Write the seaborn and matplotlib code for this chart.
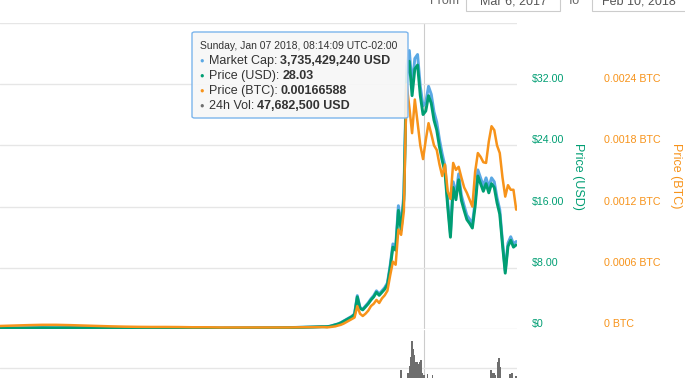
import pandas as pd
import numpy as np
import matplotlib
matplotlib.use("Agg")
import matplotlib.pyplot as plt
import seaborn as sns
from matplotlib.patches import FancyBboxPatch, Rectangle

# ---- data ----
early_dates = ["2017-08-01", "2017-08-06", "2017-08-11", "2017-08-16", "2017-08-21",
               "2017-08-26", "2017-08-31", "2017-09-05", "2017-09-10", "2017-09-15",
               "2017-09-20", "2017-09-25", "2017-09-30", "2017-10-05", "2017-10-10",
               "2017-10-15", "2017-10-20", "2017-10-25", "2017-10-30", "2017-11-04",
               "2017-11-09", "2017-11-14", "2017-11-19", "2017-11-24", "2017-11-28"]
early_usd = [0.10, 0.10, 0.12, 0.14, 0.16, 0.15, 0.17, 0.16, 0.15, 0.14,
             0.15, 0.14, 0.13, 0.13, 0.12, 0.12, 0.13, 0.12, 0.13, 0.14,
             0.15, 0.16, 0.18, 0.22, 0.26]
early_btc = [0.000026, 0.000030, 0.000034, 0.000038, 0.000041, 0.000041, 0.000038, 0.000034,
             0.000030, 0.000026, 0.000023, 0.000021, 0.000020, 0.000020, 0.000019, 0.000017,
             0.000017, 0.000015, 0.000015, 0.000015, 0.000015, 0.000015, 0.000015, 0.000017,
             0.000018]

# daily from Dec 1 2017 to Feb 10 2018
late_dates = pd.date_range("2017-12-01", "2018-02-10", freq="D")
late_usd = [0.30, 0.30, 0.30, 0.35, 0.45, 0.55, 0.65, 0.80, 1.00, 1.20,
            1.40, 1.60, 1.90, 4.20, 2.70, 2.50, 2.90, 3.30, 3.80, 4.20,
            4.80, 4.40, 4.80, 5.20, 5.80, 8.00, 10.70, 10.30, 15.50, 12.90,
            17.00, 33.00, 35.00, 30.50, 34.00, 34.50, 30.50, 28.03, 28.50, 30.50,
            29.50, 27.30, 26.00, 23.80, 22.00, 20.50, 16.00, 12.00, 18.50, 16.90,
            19.50, 16.80, 15.50, 14.30, 13.80, 13.20, 16.00, 20.00, 19.00, 18.00,
            19.00, 17.80, 19.00, 18.50, 16.50, 15.00, 11.00, 7.30, 10.80, 11.60,
            10.70, 11.00]
late_btc = [0.000019, 0.000019, 0.0000165, 0.000019, 0.0000225, 0.000026, 0.000034, 0.000041,
            0.0000525, 0.0000675, 0.0000825, 0.0000975, 0.0001125, 0.000225, 0.00015, 0.0001275,
            0.00015, 0.00018, 0.000225, 0.0002475, 0.000285, 0.000255, 0.0003, 0.00033,
            0.000375, 0.000525, 0.00066, 0.00063, 0.000975, 0.000923, 0.001155, 0.0024,
            0.002175, 0.00192, 0.00225, 0.002025, 0.0018, 0.00166588, 0.001853, 0.002018,
            0.001913, 0.0018, 0.001755, 0.001613, 0.0015, 0.001613, 0.00135, 0.001275,
            0.001628, 0.00156, 0.00159, 0.001485, 0.001388, 0.001335, 0.001268, 0.0012,
            0.001538, 0.001725, 0.001688, 0.001635, 0.001628, 0.001838, 0.001988, 0.00195,
            0.0018, 0.001725, 0.001485, 0.001298, 0.00141, 0.001365, 0.001365, 0.00117]

circulating_supply = 133265403  # market cap / price from the tooltip

vol_dates = ["2017-12-15 00:00", "2017-12-20 00:00", "2017-12-27 00:00", "2017-12-29 23:00",
             "2018-01-01 12:00", "2018-01-02 02:00", "2018-01-02 11:00", "2018-01-02 23:00",
             "2018-01-03 08:00", "2018-01-03 16:45", "2018-01-04 01:30", "2018-01-04 10:15",
             "2018-01-04 23:30", "2018-01-05 12:30", "2018-01-05 21:15", "2018-01-06 06:00",
             "2018-01-06 14:45", "2018-01-07 08:14", "2018-01-08 15:45", "2018-01-10 12:30",
             "2018-01-13 00:00", "2018-01-18 00:00", "2018-01-25 00:00", "2018-01-31 19:00",
             "2018-02-01 04:00", "2018-02-01 21:30", "2018-02-02 11:30", "2018-02-03 08:30",
             "2018-02-03 17:15", "2018-02-04 02:00", "2018-02-07 17:45", "2018-02-08 11:00",
             "2018-02-09 22:00"]
vol_musd = [20, 25, 38, 53, 50, 57, 66, 82, 74, 68, 56, 61, 61, 59, 61, 63, 50,
            47.68, 49, 48, 35, 40, 30, 53, 50, 50, 48, 61, 65, 56, 49, 50, 47]

usd_ticks = [0, 8, 16, 24, 32, 40]
usd_labels = ["$0", "$8.00", "$16.00", "$24.00", "$32.00", ""]
btc_ticks = [0, 0.0006, 0.0012, 0.0018, 0.0024, 0.0030]
btc_labels = ["0 BTC", "0.0006 BTC", "0.0012 BTC", "0.0018 BTC", "0.0024 BTC", ""]

hover_time = "2018-01-07 08:14"
tooltip_header = "Sunday, Jan 07 2018, 08:14:09 UTC-02:00"
tooltip_rows = [("Market Cap:", "3,735,429,240 USD"),
                ("Price (USD):", "28.03"),
                ("Price (BTC):", "0.00166588"),
                ("24h Vol:", "47,682,500 USD")]

# ---- style ----
C_CAP = "#5aa8e4"
C_USD = "#009e73"
C_BTC = "#f7931a"
C_VOL = "#6e6e6e"
GRID = "#e6e6e6"

sns.set_theme(style="white")
plt.rcParams["font.family"] = ["Liberation Sans", "DejaVu Sans"]

df = pd.DataFrame({
    "date": pd.to_datetime(list(early_dates) + list(late_dates.strftime("%Y-%m-%d"))),
    "usd": early_usd + late_usd,
    "btc": early_btc + late_btc,
})
df["mcap"] = df["usd"] * circulating_supply
vol = pd.DataFrame({"date": pd.to_datetime(vol_dates, format="mixed"), "vol": vol_musd})

W, H = 685, 378
fig = plt.figure(figsize=(W / 100, H / 100), dpi=100)
fig.patch.set_facecolor("white")

def fx(x):
    return x / W

def fy(y):
    return 1 - y / H

xlim = (pd.Timestamp("2017-08-05 14:30"), pd.Timestamp("2018-02-10 07:00"))

# price panel: top y=23, bottom y=329, right edge x=517
ax = fig.add_axes([0, fy(329), fx(517), (329 - 23) / H])   # grid + USD labels
ax_cap = ax.twinx()   # market cap (hidden scale)
ax_usd = ax.twinx()   # price USD line
ax_btc = ax.twinx()   # price BTC line + labels

sns.lineplot(data=df, x="date", y="mcap", ax=ax_cap, color=C_CAP, lw=2.1)
sns.lineplot(data=df, x="date", y="usd", ax=ax_usd, color=C_USD, lw=2.1)
sns.lineplot(data=df, x="date", y="btc", ax=ax_btc, color=C_BTC, lw=1.8)

ax_cap.set_ylim(0, 40 * circulating_supply / 1.04)
ax_usd.set_ylim(0, 40)

ax.set_ylim(0, 40)
ax.set_yticks(usd_ticks)
ax.set_yticklabels(usd_labels)
ax_btc.set_ylim(0, 0.003)
ax_btc.set_yticks(btc_ticks)
ax_btc.set_yticklabels(btc_labels)

for z, a in enumerate((ax, ax_cap, ax_usd, ax_btc)):
    a.set_xlim(*xlim)
    a.set_xlabel("")
    a.set_ylabel("")
    a.set_xticks([])
    a.set_zorder(z)
    a.patch.set_visible(False)
    for s in a.spines.values():
        s.set_visible(False)
ax_cap.axis("off")
ax_usd.axis("off")

ax.yaxis.tick_right()
ax.yaxis.grid(True, color=GRID, lw=1)
ax.tick_params(axis="y", length=0, pad=10.8, labelcolor=C_USD, labelsize=7.7)
ax_btc.tick_params(axis="y", length=0, pad=62.5, labelcolor=C_BTC, labelsize=7.7)
ax_btc.grid(False)
for lab in ax.get_yticklabels() + ax_btc.get_yticklabels():
    lab.set_va("bottom")

ax.axvline(pd.Timestamp(hover_time), color="#cccccc", lw=0.8, zorder=0)

fig.text(fx(578), fy(176), "Price (USD)", rotation=270, color=C_USD, fontsize=9,
         ha="center", va="center")
fig.text(fx(676), fy(176), "Price (BTC)", rotation=270, color=C_BTC, fontsize=9,
         ha="center", va="center")

# volume panel (mostly below the visible area)
axv = fig.add_axes([0, fy(423), fx(517), (423 - 330) / H])
axv.bar(vol["date"], vol["vol"], width=0.4, color=C_VOL, linewidth=0)
axv.set_xlim(*xlim)
axv.set_ylim(0, 93)
axv.set_yticks([55])
axv.set_yticklabels([])
axv.set_xticks([])
axv.yaxis.grid(True, color=GRID, lw=1)
axv.set_axisbelow(True)
axv.tick_params(length=0)
axv.set_facecolor("none")
for s in axv.spines.values():
    s.set_visible(False)
axv.axvline(pd.Timestamp(hover_time), color="#cccccc", lw=0.8, zorder=0.5)

# date range inputs at the top (cut off)
fig.text(fx(459), fy(4), "From", ha="right", va="baseline", color="#666666", fontsize=9)
fig.text(fx(573), fy(4), "To", ha="center", va="baseline", color="#666666", fontsize=9)
for x0, x1 in [(466, 560), (592, 700)]:
    fig.add_artist(Rectangle((fx(x0), fy(10.5)), (x1 - x0) / W, 0.2,
                             transform=fig.transFigure, fc="white", ec="#cccccc", lw=0.8))
fig.text(fx(513), fy(4), "Mar 6, 2017", ha="center", va="baseline", color="#555555", fontsize=9)
fig.text(fx(639), fy(4), "Feb 10, 2018", ha="center", va="baseline", color="#555555", fontsize=9)

# tooltip
box = FancyBboxPatch((fx(192), fy(118)), 216 / W, 86 / H,
                     boxstyle="round,pad=0,rounding_size=0.004",
                     transform=fig.transFigure, fc=(0.97, 0.97, 0.97, 0.9),
                     ec="#7cb5ec", lw=1, zorder=5)
fig.add_artist(box)
fig.text(fx(200), fy(46), tooltip_header, fontsize=7.5, color="#333333",
         va="center", zorder=6)
renderer = fig.canvas.get_renderer()
for i, ((label, value), c) in enumerate(zip(tooltip_rows, [C_CAP, C_USD, C_BTC, C_VOL])):
    y = 61 + i * 15
    fig.text(fx(202), fy(y), "\u25cf", color=c, fontsize=5.5, ha="center", va="center", zorder=6)
    t = fig.text(fx(209), fy(y), label, fontsize=9, color="#333333", va="center", zorder=6)
    bb = t.get_window_extent(renderer)
    fig.text(bb.x1 / W + 3 / W, fy(y), value, fontsize=9, fontweight="bold",
             color="#333333", va="center", zorder=6)

fig.savefig("out.png", dpi=100)
